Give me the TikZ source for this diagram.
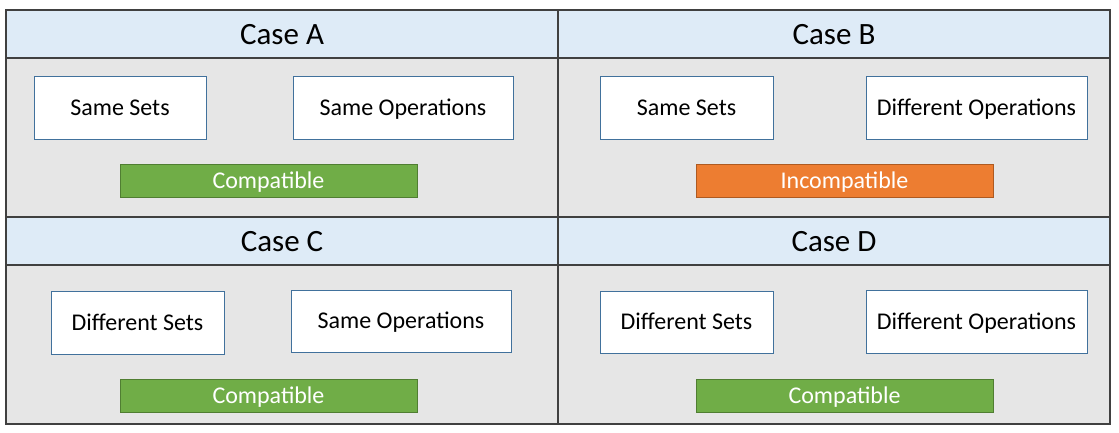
\documentclass[tikz,border=0pt]{standalone}
\usepackage{fontspec}
\setmainfont{Carlito}
\definecolor{headfill}{HTML}{DEEBF7}
\definecolor{bodyfill}{HTML}{E6E6E6}
\definecolor{gridline}{HTML}{404040}
\definecolor{boxline}{HTML}{41719C}
\definecolor{okfill}{HTML}{70AD47}
\definecolor{okline}{HTML}{507E32}
\definecolor{nofill}{HTML}{ED7D31}
\definecolor{noline}{HTML}{AE5A21}
\begin{document}
\begin{tikzpicture}[x=1pt,y=-1pt,
  casetitle/.style={font=\fontsize{31}{36}\selectfont, inner sep=0pt,
    text height=20pt, text depth=0pt},
  item/.style={draw=boxline, line width=1pt, fill=white, inner sep=0pt,
    font=\fontsize{24}{28}\selectfont, text height=15.4pt, text depth=0pt},
  verdict/.style={line width=1pt, text=white, inner sep=0pt,
    minimum width=297pt, minimum height=33pt, font=\fontsize{24}{28}\selectfont,
    text height=15.4pt, text depth=0pt},
  ok/.style={verdict, fill=okfill, draw=okline},
  notok/.style={verdict, fill=nofill, draw=noline},
  grid/.style={draw=gridline, line width=1.6pt}]
\useasboundingbox (0,0) rectangle (1119,432);

% cell backgrounds
\fill[headfill] (6,10) rectangle (1110,58);
\fill[bodyfill] (6,58) rectangle (1110,217);
\fill[headfill] (6,217) rectangle (1110,265);
\fill[bodyfill] (6,265) rectangle (1110,424);

% table rules
\draw[grid] (6,10) rectangle (1110,424);
\draw[grid] (6,58) -- (1110,58);
\draw[grid] (6,217) -- (1110,217);
\draw[grid] (6,265) -- (1110,265);
\draw[grid] (558,10) -- (558,424);

% titles
\node[casetitle] (tA) at (282,34) {Case A};
\node[casetitle] (tB) at (834,34) {Case B};
\node[casetitle] (tC) at (282,241) {Case C};
\node[casetitle] (tD) at (834,241) {Case D};

% Case A
\node[item, minimum width=172pt, minimum height=63pt] (setA) at (120,107.5) {Same Sets};
\node[item, minimum width=220pt, minimum height=63pt] (opA) at (403,107.5) {Same Operations};
\node[ok] (resA) at (268.5,180.5) {Compatible};

% Case B
\node[item, minimum width=173pt, minimum height=63pt] (setB) at (686.5,107.5) {Same Sets};
\node[item, minimum width=221pt, minimum height=63pt] (opB) at (976.5,107.5) {Different Operations};
\node[notok] (resB) at (844.5,180.5) {Incompatible};

% Case C
\node[item, minimum width=173pt, minimum height=63pt] (setC) at (137.5,322.5) {Different Sets};
\node[item, minimum width=220pt, minimum height=62pt] (opC) at (401,321) {Same Operations};
\node[ok] (resC) at (268.5,395.5) {Compatible};

% Case D
\node[item, minimum width=173pt, minimum height=62pt] (setD) at (686.5,322) {Different Sets};
\node[item, minimum width=221pt, minimum height=63pt] (opD) at (976.5,321.5) {Different Operations};
\node[ok] (resD) at (844.5,395.5) {Compatible};
\end{tikzpicture}
\end{document}
